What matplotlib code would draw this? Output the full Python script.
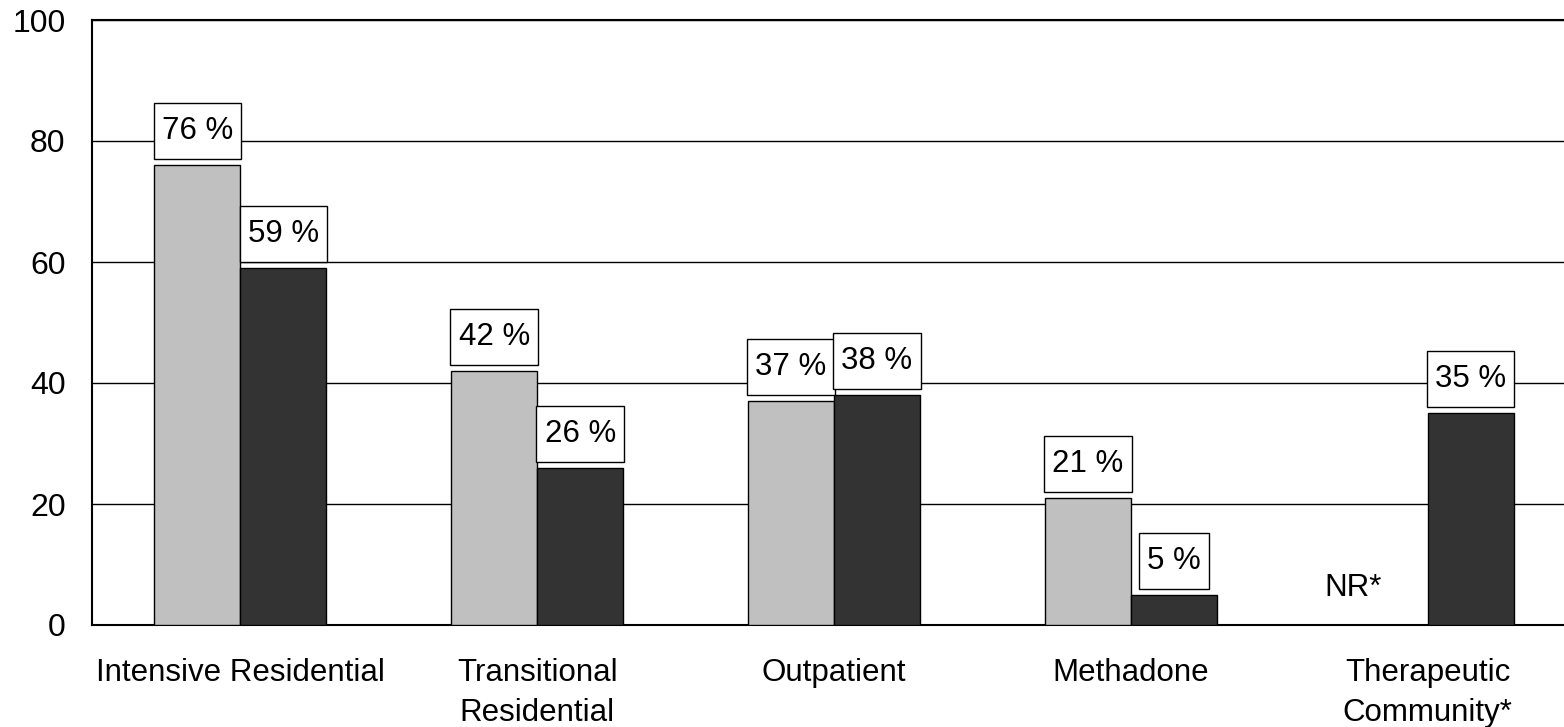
import numpy as np
import matplotlib
matplotlib.use("Agg")
import matplotlib.pyplot as plt
from matplotlib.path import Path

categories = ["Intensive Residential", "Transitional\nResidential", "Outpatient",
              "Methadone", "Therapeutic\nCommunity*"]
series_light = [76, 42, 37, 21, np.nan]   # NR* for last category
series_dark = [59, 26, 38, 5, 35]
yticks = [0, 20, 40, 60, 80, 100]

plt.rcParams['font.family'] = ['Liberation Sans', 'DejaVu Sans']
FS = 22.5
FS_Y = 23
FS_LAB = 22.5


def label_box(x0, y0, width, height, mutation_size):
    px = 0.26 * mutation_size
    py = 0.42 * mutation_size
    verts = [(x0 - px, y0 - py), (x0 + width + px, y0 - py),
             (x0 + width + px, y0 + height + py), (x0 - px, y0 + height + py),
             (x0 - px, y0 - py)]
    return Path(verts, closed=True)


fig = plt.figure(figsize=(15.64, 7.27), dpi=100)
ax = fig.add_axes([92/1564, (727-625)/727, 1484/1564, 605/727])

x = np.arange(len(categories))
w = 0.29
light = np.array(series_light, dtype=float)
dark = np.array(series_dark, dtype=float)

ax.set_axisbelow(True)
ax.yaxis.grid(True, color='black', linewidth=1.0)
ax.bar(x[~np.isnan(light)] - w/2, light[~np.isnan(light)], width=w,
       color='#c0c0c0', edgecolor='black', linewidth=1.0, zorder=3)
ax.bar(x + w/2, dark, width=w, color='#333333', edgecolor='black',
       linewidth=1.0, zorder=3)

box = dict(boxstyle=label_box, facecolor='white', edgecolor='black', linewidth=1.0)
OFF = 24.5
for xi, v in zip(x - w/2, light):
    if np.isnan(v):
        ax.annotate("NR*", (xi - 0.105, 0), xytext=(0, 27), textcoords='offset points',
                    ha='center', va='center', fontsize=FS_LAB, zorder=4)
    else:
        ax.annotate(f"{int(v)} %", (xi, v), xytext=(0, OFF), textcoords='offset points',
                    ha='center', va='center', fontsize=FS_LAB, bbox=box, zorder=4)
for xi, v in zip(x + w/2, dark):
    ax.annotate(f"{int(v)} %", (xi, v), xytext=(0, OFF), textcoords='offset points',
                ha='center', va='center', fontsize=FS_LAB, bbox=box, zorder=4)

ax.set_xlim(-0.5, len(categories) - 0.5)
ax.set_ylim(0, 100)
ax.set_yticks(yticks)
ax.set_yticklabels([str(t) for t in yticks], fontsize=FS_Y)
ax.set_xticks(x)
ax.set_xticklabels(categories, fontsize=FS, linespacing=1.43, va='top')
ax.tick_params(axis='y', length=0, pad=19)
ax.tick_params(axis='x', length=0, pad=24)

for s in ['left', 'top', 'bottom']:
    ax.spines[s].set_color('black')
    ax.spines[s].set_linewidth(1.5)
ax.spines['right'].set_visible(False)

fig.savefig("out.png", dpi=100)
